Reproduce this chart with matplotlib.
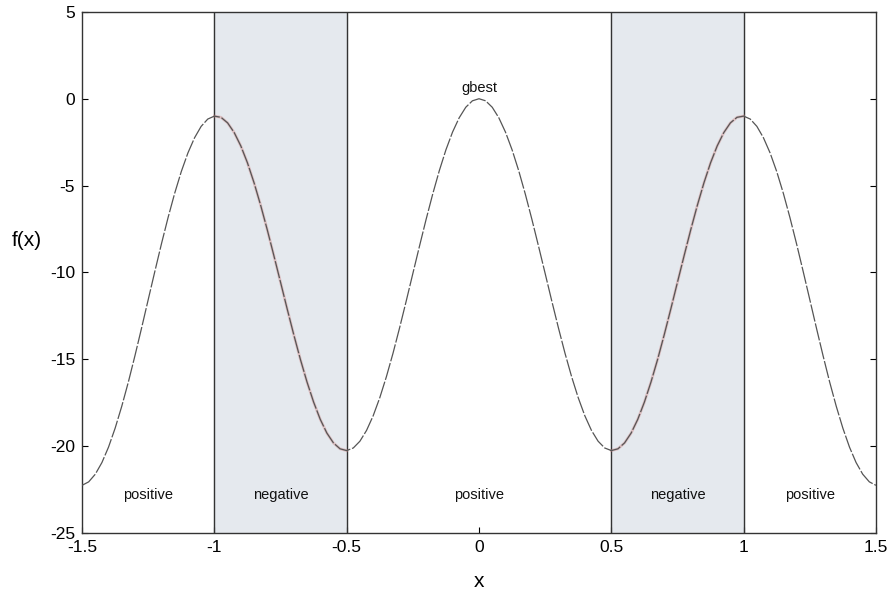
import numpy as np
import matplotlib.pyplot as plt

plt.rcParams["font.family"] = ["Liberation Sans", "DejaVu Sans"]
plt.rcParams["axes.unicode_minus"] = False

# f(x) sampled every 0.025 from -1.5 to 1.5
x = np.linspace(-1.5, 1.5, 121)
fx = [
    -22.25, -22.05, -21.61, -20.94, -20.05, -18.96, -17.70, -16.30, -14.78, -13.19,
    -11.56, -9.94, -8.35, -6.84, -5.44, -4.19, -3.12, -2.25, -1.59, -1.17,
    -1.00, -1.07, -1.39, -1.95, -2.72, -3.69, -4.84, -6.14, -7.55, -9.04,
    -10.56, -12.09, -13.58, -15.00, -16.30, -17.46, -18.45, -19.24, -19.81, -20.15,
    -20.25, -20.10, -19.71, -19.09, -18.25, -17.21, -16.00, -14.65, -13.18, -11.64,
    -10.06, -8.49, -6.95, -5.49, -4.14, -2.94, -1.92, -1.10, -0.49, -0.12,
    0.00,
    -0.12, -0.49, -1.10, -1.92, -2.94, -4.14, -5.49, -6.95, -8.49, -10.06,
    -11.64, -13.18, -14.65, -16.00, -17.21, -18.25, -19.09, -19.71, -20.10, -20.25,
    -20.15, -19.81, -19.24, -18.45, -17.46, -16.30, -15.00, -13.58, -12.09, -10.56,
    -9.04, -7.55, -6.14, -4.84, -3.69, -2.72, -1.95, -1.39, -1.07, -1.00,
    -1.17, -1.59, -2.25, -3.12, -4.19, -5.44, -6.84, -8.35, -9.94, -11.56,
    -13.19, -14.78, -16.30, -17.70, -18.96, -20.05, -20.94, -21.61, -22.05, -22.25,
]
fx = np.array(fx)

neg_regions = [(-1.0, -0.5), (0.5, 1.0)]
region_labels = ["positive", "negative", "positive", "negative", "positive"]
label_x = [-1.25, -0.75, 0.0, 0.75, 1.25]

fig = plt.figure(figsize=(8.92, 5.93), dpi=100)
ax = fig.add_axes([0.092, 0.101, 0.890, 0.879])

for a, b in neg_regions:
    ax.axvspan(a, b, color="#e5e9ee", zorder=0)
    ax.axvline(a, color="#333333", lw=1.0, zorder=2)
    ax.axvline(b, color="#333333", lw=1.0, zorder=2)
    m = (x >= a) & (x <= b)
    ax.plot(x[m], fx[m], color="#d08a8a", lw=2.0, alpha=0.45, zorder=3)

ax.plot(x, fx, color="#555555", lw=0.9, linestyle=(0, (14, 1.5)), zorder=4)

for lx, lab in zip(label_x, region_labels):
    ax.text(lx, -22.8, lab, ha="center", va="center", fontsize=10.5, color="#111111")
ax.text(0, 0.6, "gbest", ha="center", va="center", fontsize=10.5, color="#111111")

ax.set_xlim(-1.5, 1.5)
ax.set_ylim(-25, 5)
ax.set_xticks([-1.5, -1, -0.5, 0, 0.5, 1, 1.5])
ax.set_xticklabels(["-1.5", "-1", "-0.5", "0", "0.5", "1", "1.5"])
ax.set_yticks([5, 0, -5, -10, -15, -20, -25])
ax.tick_params(direction="in", labelsize=12.5, length=4, right=True, pad=5)

ax.set_xlabel("x", fontsize=15)
ax.xaxis.set_label_coords(0.5, -0.075)
ax.set_ylabel("f(x)", fontsize=15, rotation=0, va="center")
ax.yaxis.set_label_coords(-0.07, 0.562)

for s in ax.spines.values():
    s.set_color("#333333")
    s.set_linewidth(1.0)

fig.savefig("out.png", dpi=100)
